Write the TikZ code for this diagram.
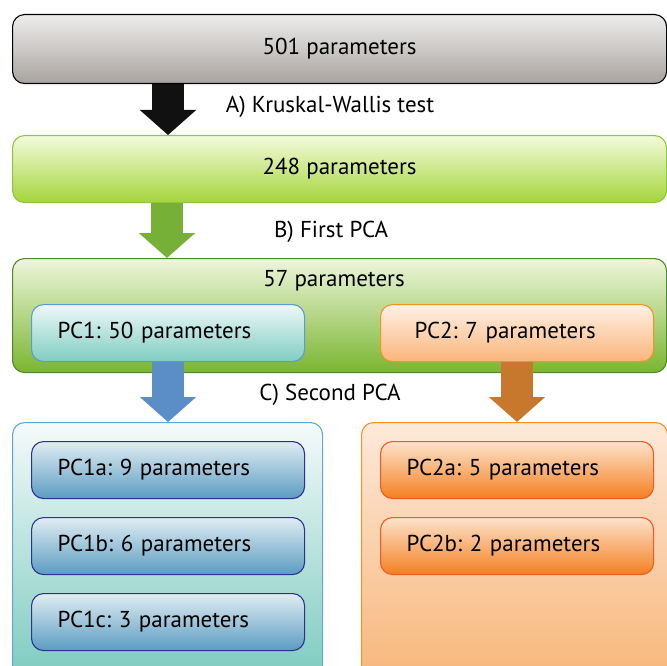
\documentclass[tikz,border=0pt]{standalone}
\usepackage{fontspec}
\setmainfont{PT Sans}
\frenchspacing
\usetikzlibrary{arrows.meta}
\definecolor{grayT}{HTML}{EDEDED}\definecolor{grayB}{HTML}{A9A39E}
\definecolor{g1T}{HTML}{F4FBDC}\definecolor{g1B}{HTML}{A5D53A}\definecolor{g1D}{HTML}{8DC63F}
\definecolor{g2T}{HTML}{EEF6DC}\definecolor{g2B}{HTML}{7AB530}\definecolor{g2D}{HTML}{4F8A2A}
\definecolor{p1T}{HTML}{EEF8F8}\definecolor{p1B}{HTML}{7FCDC2}\definecolor{p1D}{HTML}{5B9BD5}
\definecolor{p2T}{HTML}{FFF1E6}\definecolor{p2B}{HTML}{F9B57A}\definecolor{p2D}{HTML}{F7941D}
\definecolor{lbT}{HTML}{F5FAFA}\definecolor{lbB}{HTML}{78C9BD}\definecolor{lbD}{HTML}{5FA7D8}
\definecolor{rbT}{HTML}{FDE9D9}\definecolor{rbB}{HTML}{F7B578}\definecolor{rbD}{HTML}{F7941D}
\definecolor{saT}{HTML}{E0EDF2}\definecolor{saB}{HTML}{5B9CC2}\definecolor{saD}{HTML}{2E3192}
\definecolor{oaT}{HTML}{FDE3CC}\definecolor{oaB}{HTML}{F47F20}\definecolor{oaD}{HTML}{F15A24}
\definecolor{arBlack}{HTML}{111111}\definecolor{arGreen}{HTML}{76B036}
\definecolor{arBlue}{HTML}{5B8EC7}\definecolor{arOrange}{HTML}{C8782C}
\begin{document}
\begin{tikzpicture}[x=1pt,y=-1pt,
  box/.style={rounded corners=12pt, line width=1.1pt, anchor=north west, inner sep=0pt,
     font=\fontsize{23}{27}\selectfont},
  sub/.style={box, minimum width=273pt, minimum height=57pt, text width=221pt, align=left},
  lbl/.style={font=\fontsize{23}{27}\selectfont, inner sep=0pt},
  fatarrow/.style={line width=32pt, -{Triangle[width=55pt,length=25pt]}}]
\useasboundingbox (0,0) rectangle (667,666);
\clip (0,0) rectangle (667,666);
% boxes
\node[box, draw=black, top color=grayT, bottom color=grayB, minimum width=654pt, minimum height=69pt] (top) at (12,14) {501 parameters};
\node[box, draw=g1D, top color=g1T, bottom color=g1B, minimum width=654pt, minimum height=67pt] (g1) at (12,135) {248 parameters};
\node[box, draw=g2D, top color=g2T, bottom color=g2B, minimum width=654pt, minimum height=114pt] (g2) at (12,258) {};
\node[lbl] (g2t) at (334,281) {57 parameters};
\node[sub, draw=p1D, top color=p1T, bottom color=p1B] (pc1) at (31,304) {PC1: 50 parameters};
\node[sub, draw=p2D, top color=p2T, bottom color=p2B, text width=213pt] (pc2) at (380,304) {\hspace*{4pt}PC2: 7 parameters};
\node[box, draw=lbD, top color=lbT, bottom color=lbB, minimum width=310pt, minimum height=265pt] (lb) at (12,422) {};
\node[box, draw=rbD, top color=rbT, bottom color=rbB, minimum width=306pt, minimum height=265pt] (rb) at (361,422) {};
\node[sub, draw=saD, top color=saT, bottom color=saB] (pc1a) at (31,441) {PC1a: 9 parameters};
\node[sub, draw=saD, top color=saT, bottom color=saB] (pc1b) at (31,517) {PC1b: 6 parameters};
\node[sub, draw=saD, top color=saT, bottom color=saB] (pc1c) at (31,593) {PC1c: 3 parameters};
\node[sub, draw=oaD, top color=oaT, bottom color=oaB] (pc2a) at (380,441) {PC2a: 5 parameters};
\node[sub, draw=oaD, top color=oaT, bottom color=oaB] (pc2b) at (380,517) {PC2b: 2 parameters};
% arrows
\draw[fatarrow, draw=arBlack] (168,0 |- top.south) -- (168,0 |- g1.north);
\draw[fatarrow, draw=arGreen] (167,0 |- g1.south) -- (167,0 |- g2.north);
\draw[fatarrow, draw=arBlue] (168,0 |- pc1.south) -- (168,0 |- lb.north);
\draw[fatarrow, draw=arOrange] (517,0 |- pc2.south) -- (517,0 |- rb.north);
% labels
\node[lbl] (la) at (330,107) {A) Kruskal-Wallis test};
\node[lbl] (lbt) at (331,232) {B) First PCA};
\node[lbl] (lc) at (330,395) {C) Second PCA};
\end{tikzpicture}
\end{document}
